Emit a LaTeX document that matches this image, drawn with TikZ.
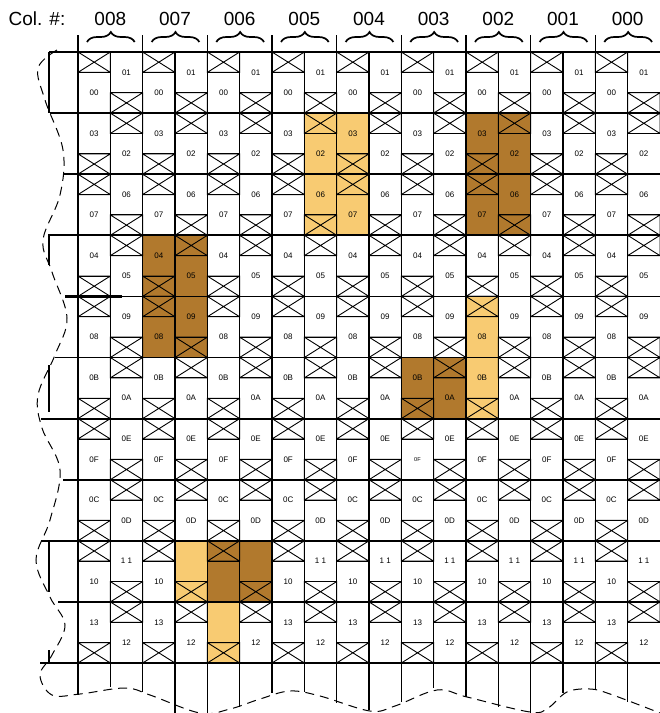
\documentclass[tikz,border=0pt]{standalone}
\usepackage{fontspec}
\setmainfont{Liberation Sans}
\usetikzlibrary{decorations.pathreplacing}
\definecolor{litefill}{RGB}{248,203,114}
\definecolor{darkfill}{RGB}{177,121,45}

\begin{document}
\begin{tikzpicture}[x=1pt,y=-1pt,
  cell/.style={draw,line width=0.9pt},
  lbl/.style={font=\fontsize{8}{9}\selectfont,inner sep=0pt},
  hdr/.style={font=\fontsize{19}{22}\selectfont,anchor=base,inner sep=0pt},
  colline/.style={line width=1.3pt},
  blockline/.style={line width=1.8pt},
  colbrace/.style={decorate,decoration={brace,amplitude=10pt},line width=1.7pt}]
\useasboundingbox (0,0) rectangle (660,713);
\pgfmathsetmacro\w{582/18}
\pgfmathsetmacro\h{611/10}
% shaded cells: first sub-col / last+1 / first row / last+1
\foreach \sa/\sb/\ra/\rb/\col in {7/9/1/3/litefill,12/14/1/3/darkfill,2/4/3/5/darkfill,
  12/13/4/6/litefill,10/12/5/6/darkfill,3/4/8/9/litefill,4/6/8/9/darkfill,4/5/9/10/litefill}
  \fill[\col] ({78+\sa*\w},{52+\ra*\h}) rectangle ({78+\sb*\w},{52+\rb*\h});
% cells: row / left label / right label
\foreach \r/\la/\lb in {0/00/01,1/03/02,2/07/06,3/04/05,4/08/09,5/0B/0A,6/0F/0E,7/0C/0D,8/10/{1 1},9/13/12}
  \foreach \s in {0,...,17}{
    \pgfmathsetmacro\xa{78+\s*\w}
    \pgfmathsetmacro\xb{78+(\s+1)*\w}
    \pgfmathsetmacro\ya{52+\r*\h}
    \pgfmathsetmacro\yb{52+(\r+1)*\h}
    \pgfmathtruncatemacro\xtop{mod(\r+\s,2)==0}
    \pgfmathtruncatemacro\isleft{mod(\s,2)==0}
    \pgfmathtruncatemacro\hide{(\r==8 && \s>2 && \s<6) || (\r==9 && \s==4)}
    \pgfmathsetmacro\lscale{(\r==6 && \s==10) ? 0.7 : 1}
    \ifnum\xtop=1
      \pgfmathsetmacro\ym{\ya+\h/3}
      \draw[cell] (\xa,\ya) rectangle (\xb,\ym) (\xa,\ya) -- (\xb,\ym) (\xa,\ym) -- (\xb,\ya);
      \draw[cell] (\xa,\ym) rectangle (\xb,\yb);
      \coordinate (m-\s-\r) at ({(\xa+\xb)/2},{(\ym+\yb)/2});
    \else
      \pgfmathsetmacro\ym{\ya+2*\h/3}
      \draw[cell] (\xa,\ym) rectangle (\xb,\yb) (\xa,\ym) -- (\xb,\yb) (\xa,\yb) -- (\xb,\ym);
      \draw[cell] (\xa,\ya) rectangle (\xb,\ym);
      \coordinate (m-\s-\r) at ({(\xa+\xb)/2},{(\ya+\ym)/2});
    \fi
    \ifnum\hide=0
      \node[lbl,scale=\lscale] (t-\s-\r) at (m-\s-\r) {\ifnum\isleft=1 \la\else\lb\fi};
    \fi
  }
% block rows, run out to the left edge
\foreach \r/\xs in {0/49,1/50,2/63,3/48,4/65,5/55,6/41,7/63,8/41,9/58,10/40}
  \draw[blockline] (\xs,{52+\r*\h}) -- (660,{52+\r*\h});
\draw[line width=2.4pt] (65,{52+4*\h}) -- (122,{52+4*\h});
% sub-columns, run out to the bottom edge
\foreach \s/\e in {0/695,1/687,2/692,3/713,4/713,5/707,6/693,7/692,8/703,9/710,10/702,
  11/688,12/697,13/707,14/713,15/693,16/690,17/702}
  \draw[colline] ({78+\s*\w},52) -- ({78+\s*\w},\e);
\draw[colline] (49,52) -- (49,113) (49,235) -- (49,265) (49,365) -- (49,412)
  (49,541) -- (49,592) (49,650) -- (49,663);
% column heads
\node[hdr] (colhead) at (37,25) {Col. \#:};
\foreach \g/\t in {0/008,1/007,2/006,3/005,4/004,5/003,6/002,7/001,8/000}{
  \draw[colline] ({78+2*\g*\w},35) -- ({78+2*\g*\w},52);
  \node[hdr] (head\t) at ({78+(2*\g+1)*\w},25) {\t};
  \draw[colbrace] ({78+2*\g*\w+9},42) -- ({78+2*(\g+1)*\w-8},42);
}
% torn edge
\draw[line width=1pt,dash pattern=on 9pt off 6pt] plot[smooth,tension=0.6] coordinates {
  (57,50) (38,68) (45,100) (63,150) (60,195) (43,240) (52,272) (67,318) (55,355)
  (38,395) (42,428) (60,470) (50,520) (36,560) (50,597) (65,625) (52,655) (40,675)
  (52,695) (80,694) (125,688) (150,695) (200,713) (230,709) (260,699) (290,691)
  (320,696) (370,711) (395,706) (437,690) (467,697) (530,712) (548,708) (567,692)
  (590,689) (610,694) (660,713)};
\end{tikzpicture}
\end{document}
